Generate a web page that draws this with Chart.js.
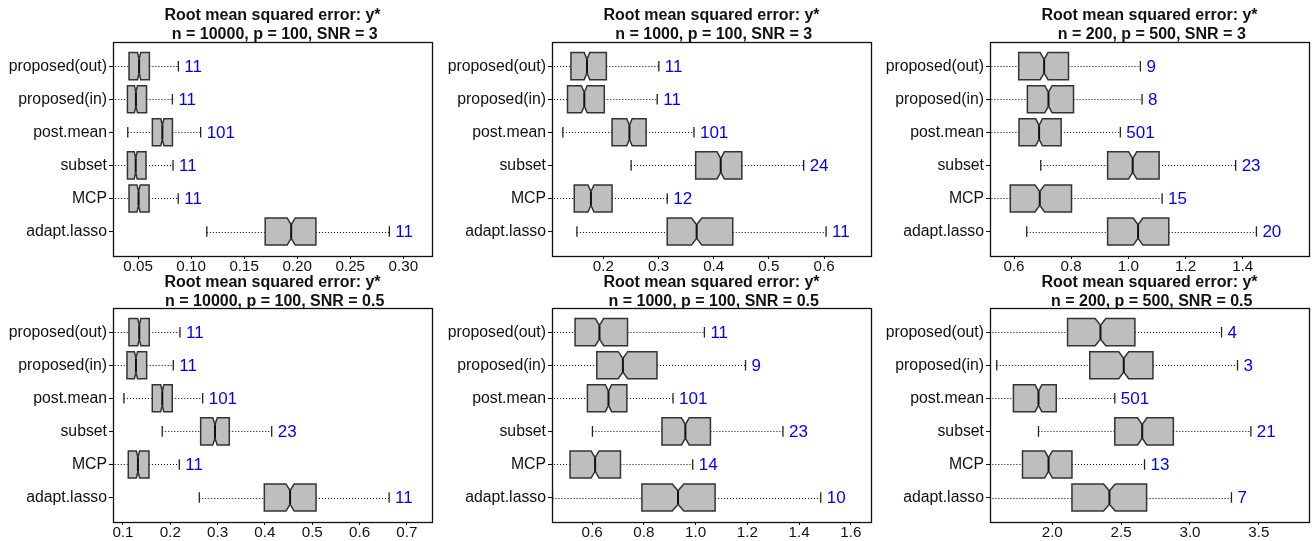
<!DOCTYPE html>
<html><head><meta charset="utf-8">
<script src="https://cdn.jsdelivr.net/npm/chart.js@4.4.1/dist/chart.umd.min.js"></script>
<style>
html,body{margin:0;padding:0;background:#fff;width:1312px;height:541px;overflow:hidden;position:relative}
canvas{position:absolute}
</style></head><body>
<canvas id="c1" width="437" height="275" style="left:0px;top:0px"></canvas>
<canvas id="c2" width="437" height="275" style="left:439px;top:0px"></canvas>
<canvas id="c3" width="437" height="275" style="left:877px;top:0px"></canvas>
<canvas id="c4" width="437" height="275" style="left:0px;top:266px"></canvas>
<canvas id="c5" width="437" height="275" style="left:439px;top:266px"></canvas>
<canvas id="c6" width="437" height="275" style="left:877px;top:266px"></canvas>
<script>
// ---------- DATA ----------
const categories = ["proposed(out)", "proposed(in)", "post.mean", "subset", "MCP", "adapt.lasso"];
const titleMain = "Root mean squared error: y*";
const subtitles = [" n = 10000, p = 100, SNR = 3", " n = 1000, p = 100, SNR = 3", " n = 200, p = 500, SNR = 3",
                   " n = 10000, p = 100, SNR = 0.5", " n = 1000, p = 100, SNR = 0.5", " n = 200, p = 500, SNR = 0.5"];
const nReps = 400; // replicates used for notch width (R: median +/- 1.58*IQR/sqrt(n))

// Panel 1: n = 10000, p = 100, SNR = 3
const p1Low  = [0.020, 0.020, 0.0403, 0.020, 0.020, 0.1148];
const p1Q1   = [0.0415, 0.0400, 0.0635, 0.0400, 0.0415, 0.1698];
const p1Med  = [0.0510, 0.0480, 0.0729, 0.0478, 0.0505, 0.1943];
const p1Q3   = [0.0607, 0.0580, 0.0824, 0.0575, 0.0604, 0.2176];
const p1High = [0.0880, 0.0824, 0.1090, 0.0830, 0.0879, 0.2868];
const p1Count = [11, 11, 101, 11, 11, 11];
const p1Ticks = [0.05, 0.10, 0.15, 0.20, 0.25, 0.30];
const p1TickLabels = ["0.05", "0.10", "0.15", "0.20", "0.25", "0.30"];

// Panel 2: n = 1000, p = 100, SNR = 3
const p2Low  = [0.100, 0.100, 0.1267, 0.2503, 0.100, 0.1521];
const p2Q1   = [0.1413, 0.1351, 0.2158, 0.3673, 0.1473, 0.3158];
const p2Med  = [0.1704, 0.1655, 0.2473, 0.4127, 0.1776, 0.3691];
const p2Q3   = [0.2055, 0.2018, 0.2776, 0.4509, 0.2158, 0.4345];
const p2High = [0.3006, 0.2976, 0.3642, 0.5630, 0.3158, 0.6036];
const p2Count = [11, 11, 101, 24, 12, 11];
const p2Ticks = [0.2, 0.3, 0.4, 0.5, 0.6];
const p2TickLabels = ["0.2", "0.3", "0.4", "0.5", "0.6"];

// Panel 3: n = 200, p = 500, SNR = 3
const p3Low  = [0.50, 0.50, 0.50, 0.6936, 0.50, 0.6445];
const p3Q1   = [0.6164, 0.6468, 0.6175, 0.9275, 0.5870, 0.9275];
const p3Med  = [0.7053, 0.7205, 0.6877, 1.0152, 0.6901, 1.0340];
const p3Q3   = [0.7906, 0.8082, 0.7649, 1.1076, 0.8012, 1.1415];
const p3High = [1.0421, 1.0480, 0.9719, 1.3754, 1.1181, 1.4480];
const p3Count = [9, 8, 501, 23, 15, 20];
const p3Ticks = [0.6, 0.8, 1.0, 1.2, 1.4];
const p3TickLabels = ["0.6", "0.8", "1.0", "1.2", "1.4"];

// Panel 4: n = 10000, p = 100, SNR = 0.5
const p4Low  = [0.070, 0.070, 0.1021, 0.1831, 0.070, 0.2613];
const p4Q1   = [0.1127, 0.1085, 0.1620, 0.2642, 0.1113, 0.3987];
const p4Med  = [0.1345, 0.1275, 0.1831, 0.2945, 0.1317, 0.4531];
const p4Q3   = [0.1556, 0.1501, 0.2042, 0.3247, 0.1550, 0.5080];
const p4High = [0.2205, 0.2064, 0.2685, 0.4143, 0.2190, 0.6624];
const p4Count = [11, 11, 101, 23, 11, 11];
const p4Ticks = [0.1, 0.2, 0.3, 0.4, 0.5, 0.6, 0.7];
const p4TickLabels = ["0.1", "0.2", "0.3", "0.4", "0.5", "0.6", "0.7"];

// Panel 5: n = 1000, p = 100, SNR = 0.5
const p5Low  = [0.430, 0.430, 0.430, 0.6013, 0.430, 0.4470];
const p5Q1   = [0.5341, 0.6182, 0.5819, 0.8701, 0.5147, 0.7925];
const p5Med  = [0.6284, 0.7190, 0.6633, 0.9605, 0.6116, 0.9321];
const p5Q3   = [0.7369, 0.8507, 0.7344, 1.0574, 0.7097, 1.0755];
const p5High = [1.0341, 1.1930, 0.9127, 1.3377, 0.9888, 1.4837];
const p5Count = [11, 9, 101, 23, 14, 10];
const p5Ticks = [0.6, 0.8, 1.0, 1.2, 1.4, 1.6];
const p5TickLabels = ["0.6", "0.8", "1.0", "1.2", "1.4", "1.6"];

// Panel 6: n = 200, p = 500, SNR = 0.5
const p6Low  = [1.50, 1.597, 1.50, 1.900, 1.50, 1.50];
const p6Q1   = [2.111, 2.272, 1.718, 2.454, 1.784, 2.143];
const p6Med  = [2.350, 2.519, 1.900, 2.653, 1.973, 2.415];
const p6Q3   = [2.600, 2.731, 2.029, 2.879, 2.143, 2.685];
const p6High = [3.229, 3.345, 2.454, 3.442, 2.670, 3.301];
const p6Count = [4, 3, 501, 21, 13, 7];
const p6Ticks = [2.0, 2.5, 3.0, 3.5];
const p6TickLabels = ["2.0", "2.5", "3.0", "3.5"];

// axis ranges
const xRanges = [[0.0264, 0.327], [0.107, 0.685], [0.516, 1.632], [0.079, 0.753], [0.445, 1.678], [1.548, 3.864]];

// ---------- DRAWING ----------
const FONT = "'Liberation Sans', Arial, Helvetica, sans-serif";
const panels = [
  {lo: p1Low, q1: p1Q1, med: p1Med, q3: p1Q3, hi: p1High, n: p1Count, ticks: p1Ticks, tl: p1TickLabels},
  {lo: p2Low, q1: p2Q1, med: p2Med, q3: p2Q3, hi: p2High, n: p2Count, ticks: p2Ticks, tl: p2TickLabels},
  {lo: p3Low, q1: p3Q1, med: p3Med, q3: p3Q3, hi: p3High, n: p3Count, ticks: p3Ticks, tl: p3TickLabels},
  {lo: p4Low, q1: p4Q1, med: p4Med, q3: p4Q3, hi: p4High, n: p4Count, ticks: p4Ticks, tl: p4TickLabels},
  {lo: p5Low, q1: p5Q1, med: p5Med, q3: p5Q3, hi: p5High, n: p5Count, ticks: p5Ticks, tl: p5TickLabels},
  {lo: p6Low, q1: p6Q1, med: p6Med, q3: p6Q3, hi: p6High, n: p6Count, ticks: p6Ticks, tl: p6TickLabels}
];

const notchBoxPlugin = {
  id: 'notchBoxes',
  afterDatasetsDraw(chart, args, opts) {
    const d = opts.panel;
    if (!d) return;
    const ctx = chart.ctx, a = chart.chartArea, xs = chart.scales.x, ys = chart.scales.y;
    const px = v => xs.getPixelForValue(v);
    const py = v => ys.getPixelForValue(v);
    const W = 0.41;
    ctx.save();
    ctx.beginPath();
    ctx.rect(a.left, a.top, a.right - a.left, a.bottom - a.top);
    ctx.clip();
    categories.forEach((cat, i) => {
      const pos = categories.length - i;
      const yc = Math.round(py(pos)) + 0.5;
      const notch = 1.58 * (d.q3[i] - d.q1[i]) / Math.sqrt(nReps);
      // whiskers (dotted)
      ctx.strokeStyle = '#000';
      ctx.lineWidth = 1;
      ctx.setLineDash([1, 2]);
      ctx.beginPath();
      ctx.moveTo(px(d.lo[i]), yc); ctx.lineTo(px(d.q1[i]), yc);
      ctx.moveTo(px(d.q3[i]), yc); ctx.lineTo(px(d.hi[i]), yc);
      ctx.stroke();
      ctx.setLineDash([]);
      // staples
      ctx.lineWidth = 1.3;
      ctx.strokeStyle = '#222';
      ctx.beginPath();
      [d.lo[i], d.hi[i]].forEach(v => {
        const x = px(v);
        ctx.moveTo(x, py(pos + 0.16)); ctx.lineTo(x, py(pos - 0.16));
      });
      ctx.stroke();
      // notched box
      const pts = [
        [d.q1[i], pos - W], [d.med[i] - notch, pos - W], [d.med[i], pos - W / 2], [d.med[i] + notch, pos - W], [d.q3[i], pos - W],
        [d.q3[i], pos + W], [d.med[i] + notch, pos + W], [d.med[i], pos + W / 2], [d.med[i] - notch, pos + W], [d.q1[i], pos + W]
      ];
      ctx.beginPath();
      pts.forEach((p, k) => { const X = px(p[0]), Y = py(p[1]); if (k === 0) ctx.moveTo(X, Y); else ctx.lineTo(X, Y); });
      ctx.closePath();
      ctx.fillStyle = '#bebebe';
      ctx.fill();
      ctx.strokeStyle = '#333';
      ctx.lineWidth = 1.5;
      ctx.stroke();
      // median
      ctx.beginPath();
      ctx.lineWidth = 2;
      ctx.strokeStyle = '#111';
      ctx.moveTo(px(d.med[i]), py(pos - W / 2)); ctx.lineTo(px(d.med[i]), py(pos + W / 2));
      ctx.stroke();
    });
    ctx.restore();
    // counts
    ctx.save();
    ctx.fillStyle = '#0000ff';
    ctx.font = '17px ' + FONT;
    ctx.textAlign = 'left';
    ctx.textBaseline = 'middle';
    categories.forEach((cat, i) => {
      const pos = categories.length - i;
      ctx.fillText(String(d.n[i]), px(d.hi[i]) + 6, py(pos) + 1);
    });
    ctx.restore();
  },
  afterDraw(chart) {
    const ctx = chart.ctx, a = chart.chartArea;
    ctx.save();
    ctx.strokeStyle = '#111';
    ctx.lineWidth = 1.3;
    ctx.strokeRect(Math.round(a.left) + 0.5, Math.round(a.top) + 0.5, Math.round(a.right - a.left), Math.round(a.bottom - a.top));
    ctx.restore();
  }
};

panels.forEach((d, k) => {
  const ctx = document.getElementById('c' + (k + 1));
  const topRow = k < 3;
  new Chart(ctx, {
    type: 'scatter',
    data: {
      datasets: [{
        data: categories.map((c, i) => ({x: d.med[i], y: categories.length - i})),
        pointRadius: 0,
        showLine: false
      }]
    },
    plugins: [notchBoxPlugin],
    options: {
      responsive: false,
      animation: false,
      devicePixelRatio: 1,
      layout: {padding: {top: 0, right: 5, bottom: 0, left: 0}},
      events: [],
      scales: {
        x: {
          type: 'linear',
          min: xRanges[k][0],
          max: xRanges[k][1],
          bounds: 'data',
          afterBuildTicks: s => { s.ticks = d.ticks.map(v => ({value: v})); },
          afterFit: s => { s.height = 19; },
          ticks: {
            autoSkip: false, maxRotation: 0, padding: 0,
            color: '#111',
            font: {family: FONT, size: 15.2, lineHeight: 1},
            callback: (v, i) => d.tl[i]
          },
          grid: {drawOnChartArea: false, drawTicks: true, tickLength: 3, color: '#111', lineWidth: 1},
          border: {display: false}
        },
        y: {
          type: 'linear',
          min: 0.26,
          max: 6.74,
          afterBuildTicks: s => { s.ticks = categories.map((c, i) => ({value: categories.length - i})); },
          afterFit: s => { s.width = 113; },
          ticks: {
            autoSkip: false, padding: 2,
            color: '#111',
            font: {family: FONT, size: 15.8},
            callback: v => categories[categories.length - v]
          },
          grid: {drawOnChartArea: false, drawTicks: true, tickLength: 4, color: '#111', lineWidth: 1},
          border: {display: false}
        }
      },
      plugins: {
        legend: {display: false},
        tooltip: {enabled: false},
        title: {
          display: true,
          fullSize: false,
          text: [titleMain, subtitles[k]],
          color: '#111',
          font: {family: FONT, size: 16, weight: 'bold', lineHeight: 1.2},
          padding: topRow ? {top: 6, bottom: -2.7} : {top: 7, bottom: -3.7}
        },
        notchBoxes: {panel: d}
      }
    }
  });
});
</script>
</body></html>
